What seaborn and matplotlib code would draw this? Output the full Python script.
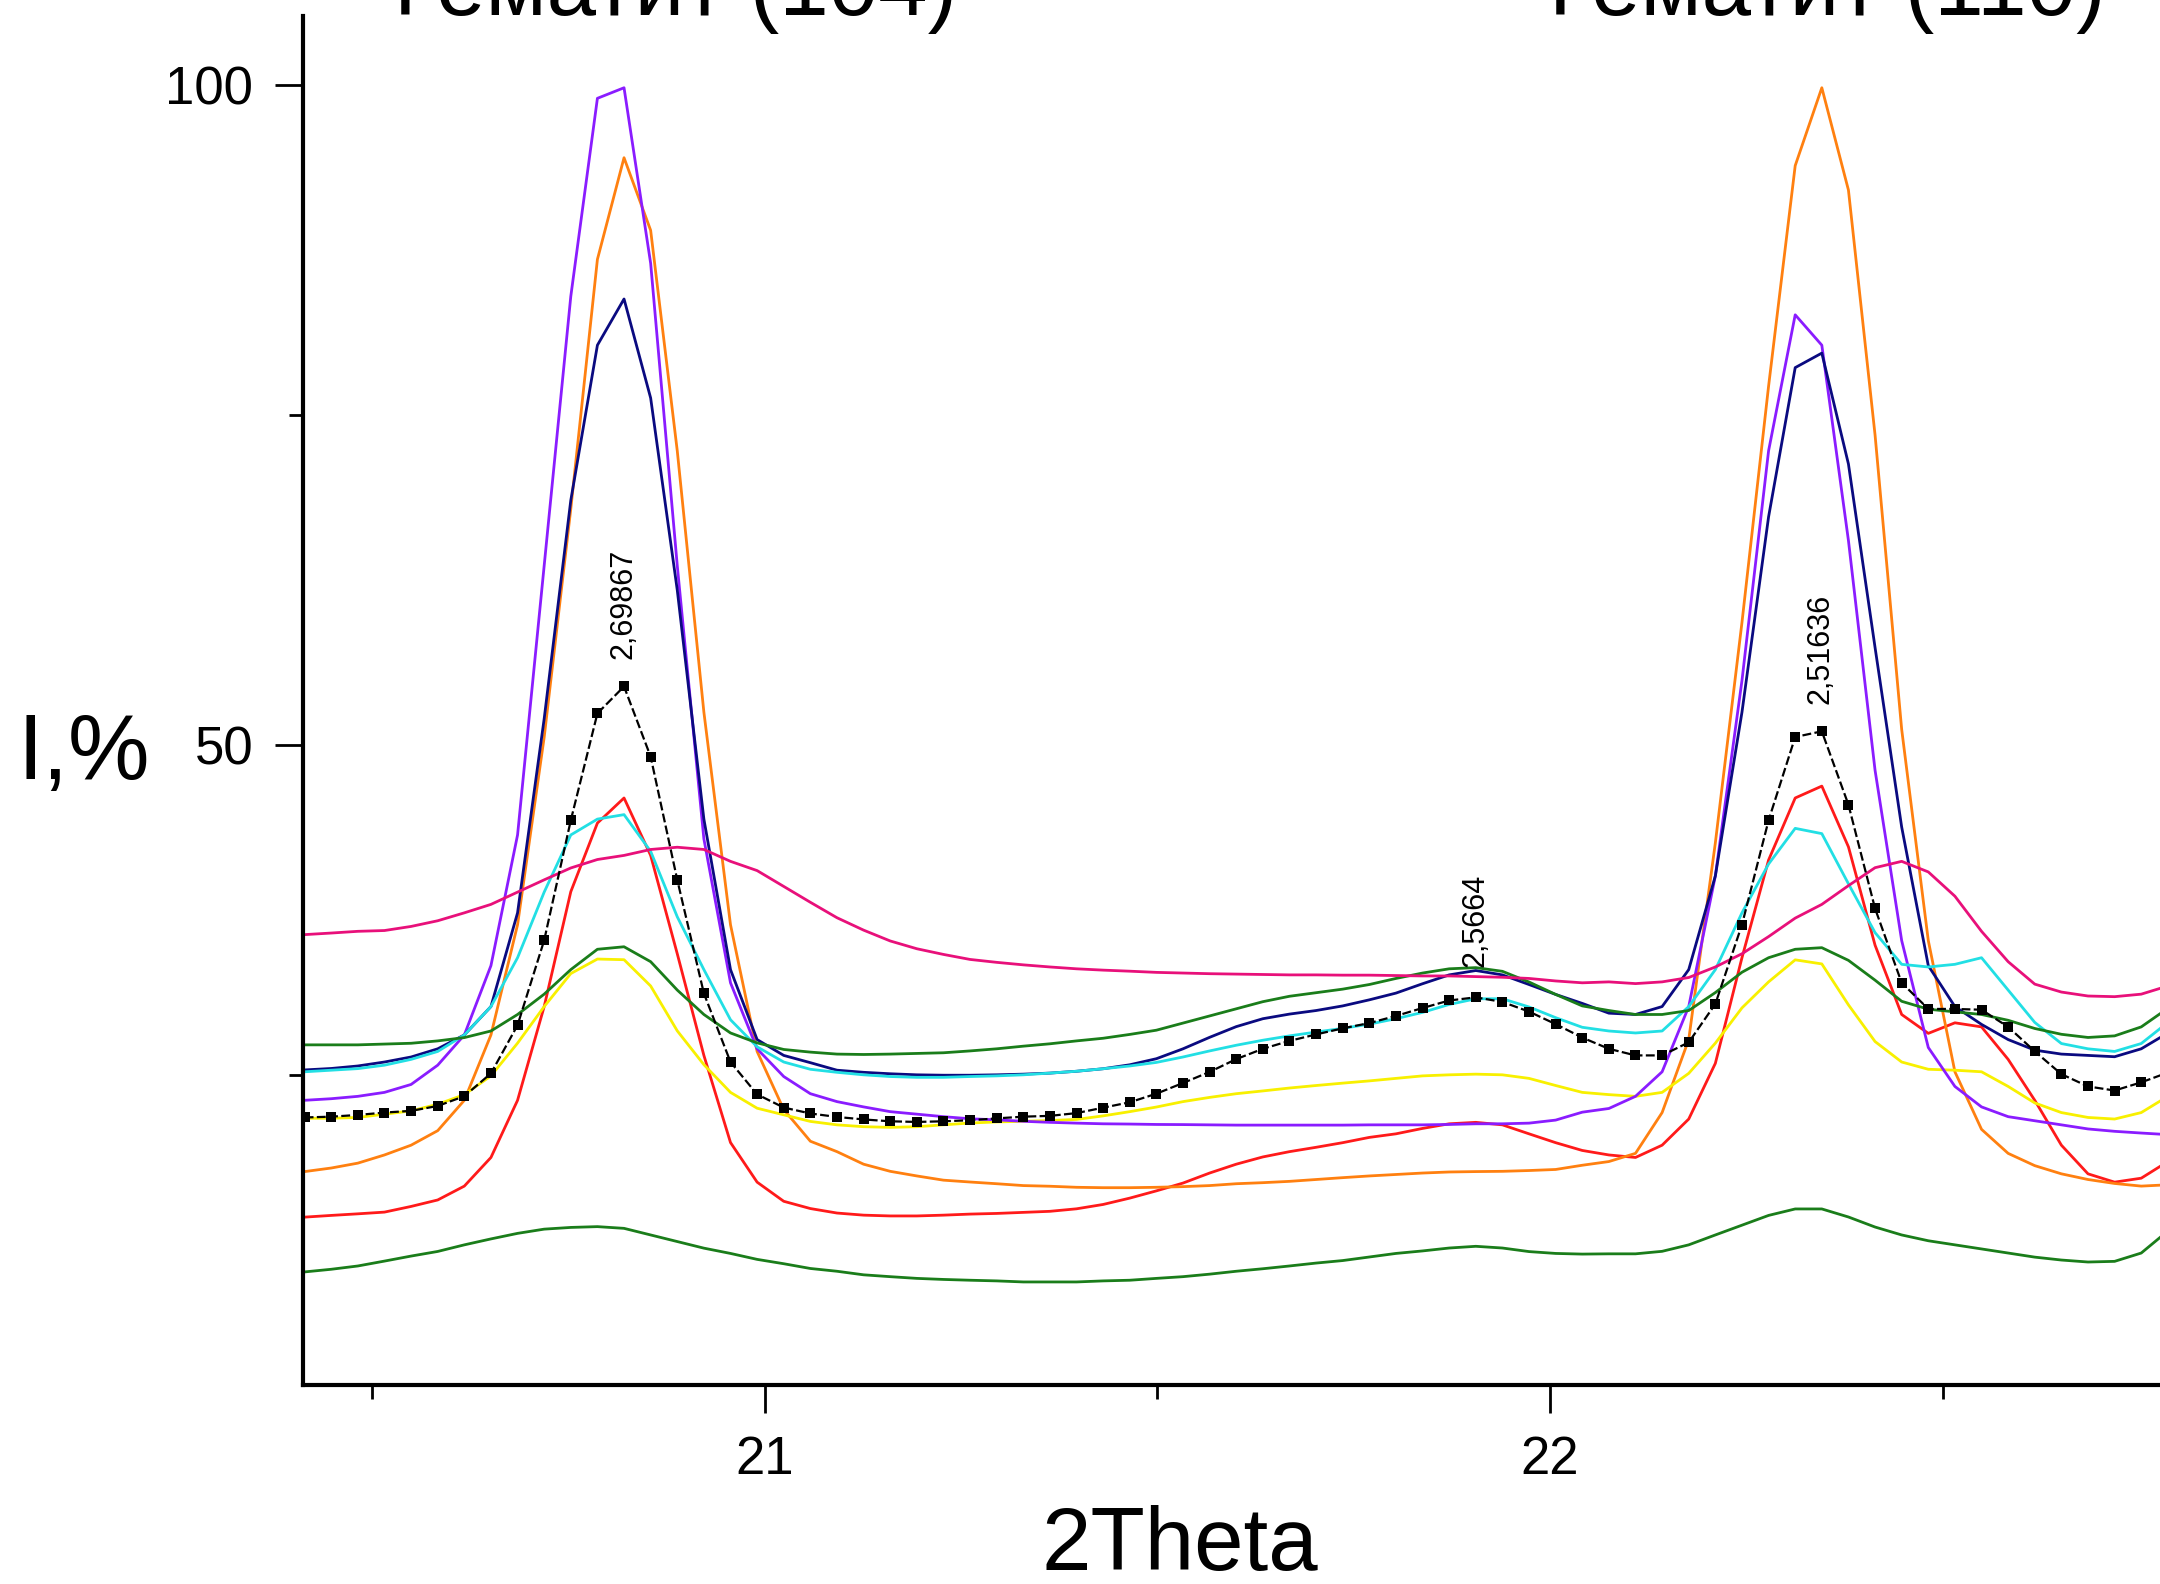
import numpy as np
import pandas as pd
import matplotlib
matplotlib.use('Agg')
import matplotlib.pyplot as plt
import seaborn as sns

# 2Theta scan grid (step ~0.0339 deg)
two_theta = np.round(20.414 + 0.0339 * np.arange(71), 4)

black = [21.8, 21.86, 21.99, 22.17, 22.3, 22.67, 23.41, 25.14, 28.79, 35.22,
         44.31, 52.41, 54.45, 49.13, 39.8, 31.2, 26.0, 23.55, 22.55, 22.1,
         21.84, 21.65, 21.51, 21.46, 21.51, 21.59, 21.73, 21.86, 21.92, 22.13,
         22.54, 22.95, 23.6, 24.41, 25.25, 26.22, 27.0, 27.6, 28.09, 28.55,
         28.95, 29.49, 30.09, 30.66, 30.9, 30.55, 29.82, 28.87, 27.85, 27.0,
         26.5, 26.5, 27.49, 30.4, 36.4, 44.31, 50.62, 51.05, 45.49, 37.63,
         32.0, 30.02, 30.02, 29.96, 28.66, 26.81, 25.08, 24.15, 23.84, 24.46,
         25.2]
violet = [23.1, 23.22, 23.4, 23.7, 24.3, 25.76, 28.05, 33.3, 43.2, 63.6,
          84.0, 99.0, 99.8, 86.5, 63.6, 42.9, 32.0, 27.0, 24.9, 23.6,
          23.0, 22.6, 22.24, 22.05, 21.86, 21.7, 21.62, 21.51, 21.43, 21.37,
          21.32, 21.3, 21.27, 21.26, 21.24, 21.22, 21.22, 21.22, 21.22, 21.22,
          21.24, 21.24, 21.24, 21.27, 21.32, 21.32, 21.37, 21.6, 22.2, 22.48,
          23.4, 25.26, 30.2, 40.1, 54.9, 72.3, 82.6, 80.3, 65.5, 48.1,
          35.2, 27.1, 24.15, 22.6, 21.86, 21.55, 21.24, 20.93, 20.75, 20.62,
          20.5]
orange = [17.7, 17.97, 18.34, 18.96, 19.7, 20.8, 23.1, 28.05, 36.4, 50.6,
          67.9, 86.8, 94.5, 89.0, 72.3, 52.5, 36.4, 26.8, 22.4, 20.0,
          19.21, 18.26, 17.72, 17.37, 17.05, 16.91, 16.78, 16.64, 16.59, 16.51,
          16.48, 16.48, 16.51, 16.56, 16.64, 16.78, 16.86, 16.96, 17.1, 17.24,
          17.37, 17.48, 17.59, 17.67, 17.7, 17.72, 17.78, 17.86, 18.18, 18.46,
          19.08, 22.17, 27.7, 42.6, 59.3, 77.2, 93.9, 99.8, 92.05, 73.5,
          51.2, 35.2, 25.26, 20.9, 19.08, 18.15, 17.53, 17.1, 16.8, 16.6,
          16.7]
navy = [25.4, 25.51, 25.7, 26.0, 26.38, 27.0, 28.05, 30.2, 37.3, 52.0,
        68.55, 80.3, 83.8, 76.3, 61.75, 44.4, 33.0, 27.7, 26.5, 25.95,
        25.38, 25.22, 25.11, 25.03, 25.0, 25.0, 25.03, 25.08, 25.16, 25.3,
        25.49, 25.79, 26.25, 27.0, 27.87, 28.68, 29.28, 29.63, 29.9, 30.25,
        30.71, 31.22, 31.93, 32.6, 32.93, 32.6, 31.87, 31.12, 30.44, 29.7,
        29.6, 30.2, 33.0, 40.1, 52.5, 67.3, 78.6, 79.7, 71.3, 57.4,
        43.8, 33.3, 30.2, 28.85, 27.7, 26.9, 26.6, 26.5, 26.4, 27.0,
        28.2]
red = [14.25, 14.38, 14.5, 14.63, 15.06, 15.55, 16.6, 18.77, 23.1, 30.2,
       38.9, 44.1, 46.0, 41.65, 34.2, 26.5, 19.9, 16.9, 15.45, 14.9,
       14.56, 14.4, 14.34, 14.34, 14.4, 14.48, 14.53, 14.61, 14.69, 14.88,
       15.21, 15.69, 16.24, 16.83, 17.59, 18.26, 18.81, 19.21, 19.54, 19.89,
       20.29, 20.56, 20.97, 21.32, 21.43, 21.24, 20.56, 19.89, 19.3, 18.96,
       18.77, 19.7, 21.68, 25.9, 33.9, 41.3, 46.0, 46.9, 42.3, 34.85,
       29.6, 28.17, 28.97, 28.66, 26.2, 23.1, 19.7, 17.53, 16.9, 17.2,
       18.46]
cyan = [25.26, 25.38, 25.5, 25.76, 26.2, 26.8, 28.05, 30.2, 33.9, 38.87,
        43.2, 44.4, 44.74, 41.96, 37.0, 33.0, 29.2, 27.15, 26.0, 25.45,
        25.22, 25.03, 24.9, 24.84, 24.84, 24.9, 24.95, 25.03, 25.16, 25.3,
        25.49, 25.7, 25.97, 26.38, 26.84, 27.27, 27.65, 27.98, 28.27, 28.55,
        28.87, 29.28, 29.76, 30.36, 30.79, 30.79, 30.17, 29.36, 28.63, 28.35,
        28.2, 28.35, 30.2, 33.0, 37.3, 41.0, 43.7, 43.3, 39.5, 35.8,
        33.4, 33.2, 33.4, 33.9, 31.45, 29.0, 27.4, 27.0, 26.8, 27.4,
        29.0]
pink = [35.65, 35.77, 35.9, 35.96, 36.27, 36.7, 37.3, 37.94, 38.87, 39.8,
        40.7, 41.34, 41.65, 42.1, 42.27, 42.1, 41.2, 40.5, 39.3, 38.1,
        36.93, 35.99, 35.17, 34.58, 34.15, 33.77, 33.55, 33.36, 33.2, 33.06,
        32.96, 32.88, 32.79, 32.74, 32.69, 32.66, 32.63, 32.6, 32.6, 32.58,
        32.58, 32.55, 32.52, 32.52, 32.47, 32.42, 32.33, 32.14, 32.0, 32.07,
        31.94, 32.07, 32.4, 33.2, 34.2, 35.5, 36.9, 37.94, 39.36, 40.72,
        41.2, 40.4, 38.56, 35.9, 33.6, 31.9, 31.3, 31.0, 30.95, 31.14,
        31.76]
green_hi = [27.3, 27.3, 27.3, 27.36, 27.42, 27.6, 27.85, 28.35, 29.6, 31.14,
            33.0, 34.54, 34.73, 33.6, 31.45, 29.6, 28.2, 27.45, 26.95, 26.75,
            26.6, 26.57, 26.6, 26.65, 26.7, 26.84, 27.0, 27.2, 27.38, 27.6,
            27.8, 28.09, 28.41, 28.95, 29.49, 30.03, 30.57, 30.98, 31.25, 31.52,
            31.87, 32.33, 32.74, 33.06, 33.15, 32.87, 32.06, 31.12, 30.25, 29.9,
            29.6, 29.6, 29.9, 31.26, 32.8, 33.9, 34.54, 34.66, 33.7, 32.2,
            30.6, 30.0, 29.8, 29.6, 29.16, 28.54, 28.1, 27.86, 27.98, 28.66,
            30.07]
yellow = [21.74, 21.74, 21.8, 22.05, 22.3, 22.8, 23.53, 24.95, 27.43, 30.2,
          32.7, 33.8, 33.75, 31.76, 28.36, 25.8, 23.7, 22.5, 22.0, 21.5,
          21.24, 21.1, 21.05, 21.1, 21.24, 21.38, 21.46, 21.51, 21.57, 21.65,
          21.92, 22.24, 22.59, 23.0, 23.32, 23.6, 23.81, 24.03, 24.22, 24.4,
          24.57, 24.76, 24.95, 25.03, 25.08, 25.03, 24.76, 24.22, 23.7, 23.53,
          23.4, 23.7, 25.14, 27.43, 30.1, 32.07, 33.74, 33.43, 30.33, 27.55,
          26.0, 25.45, 25.38, 25.26, 24.15, 22.9, 22.17, 21.8, 21.68, 22.17,
          23.4]
green_lo = [10.1, 10.3, 10.55, 10.92, 11.3, 11.65, 12.15, 12.6, 13.02, 13.34,
            13.47, 13.53, 13.4, 12.9, 12.4, 11.9, 11.5, 11.05, 10.72, 10.36,
            10.15, 9.88, 9.74, 9.61, 9.53, 9.47, 9.42, 9.34, 9.34, 9.34,
            9.42, 9.47, 9.61, 9.74, 9.93, 10.15, 10.34, 10.55, 10.77, 10.96,
            11.23, 11.5, 11.69, 11.91, 12.04, 11.91, 11.64, 11.5, 11.45, 11.47,
            11.47, 11.66, 12.15, 12.9, 13.64, 14.38, 14.87, 14.87, 14.26, 13.5,
            12.9, 12.46, 12.15, 11.84, 11.53, 11.22, 11.0, 10.85, 10.9, 11.53,
            13.2]

# peak labels (d-spacing): position x, label bottom y
peak_x = [20.82, 21.905, 22.345]
peak_y = [56.5, 33.2, 53.1]
peak_text = ['2,69867', '2,5664', '2,51636']

titles = ['Гематит (104)', 'Гематит (110)']

colors = {
    'green_lo': '#1a7d1a',
    'red': '#ff1a1a',
    'orange': '#ff8010',
    'yellow': '#f8f000',
    'violet': '#8a1cff',
    'navy': '#0a0a80',
    'cyan': '#22dfe4',
    'green_hi': '#1a7d1a',
    'pink': '#e8107a',
}
series = {
    'green_lo': green_lo, 'red': red, 'orange': orange, 'yellow': yellow,
    'violet': violet, 'navy': navy, 'cyan': cyan, 'green_hi': green_hi,
    'pink': pink,
}

df = pd.concat([pd.DataFrame({'two_theta': two_theta, 'I': v, 'series': k})
                for k, v in series.items()], ignore_index=True)

sns.set_style('ticks', {'axes.edgecolor': 'black', 'text.color': 'black',
                        'xtick.color': 'black', 'ytick.color': 'black'})
plt.rcParams['font.family'] = ['Liberation Sans', 'DejaVu Sans']

fig = plt.figure(figsize=(21.6, 15.84), dpi=100)
ax = fig.add_axes([0.1403, 0.1256, 0.8597, 0.8640])

sns.lineplot(data=df, x='two_theta', y='I', hue='series', palette=colors,
             estimator=None, sort=False, legend=False, linewidth=2.0, ax=ax)
sns.lineplot(x=two_theta, y=black, color='black', estimator=None, sort=False,
             linewidth=1.6, linestyle=(0, (4, 1.5)), marker='s', markersize=7.5,
             markeredgewidth=0, ax=ax)

for x, y, t in zip(peak_x, peak_y, peak_text):
    ax.text(x, y, t, rotation=90, ha='center', va='bottom', fontsize=22,
            color='black')

ax.set_xlim(20.412, 22.777)
ax.set_ylim(1.53, 105.2)
ax.set_xticks([21, 22])
ax.set_xticks([20.5, 21.5, 22.5], minor=True)
ax.set_yticks([50, 100])
ax.set_yticks([25, 75], minor=True)
ax.tick_params(axis='both', which='major', direction='out', length=20,
               width=2, labelsize=38, pad=16, colors='black')
ax.tick_params(axis='both', which='minor', direction='out', length=10,
               width=2, colors='black')
ax.set_xlabel('')
ax.set_ylabel('')
for s in ['top', 'right']:
    ax.spines[s].set_visible(False)
for s in ['left', 'bottom']:
    ax.spines[s].set_linewidth(3)
    ax.spines[s].set_color('black')

fig.text(0.546, 0.009, '2Theta', fontsize=64, ha='center', va='baseline',
         color='black')
fig.text(0.039, 0.508, 'I,%', fontsize=66, ha='center', va='baseline',
         color='black')
fig.text(0.313, 0.9905, titles[0], fontsize=64, ha='center', va='baseline',
         color='black')
fig.text(0.846, 0.9905, titles[1], fontsize=64, ha='center', va='baseline',
         color='black')

fig.savefig('out.png', dpi=100)
